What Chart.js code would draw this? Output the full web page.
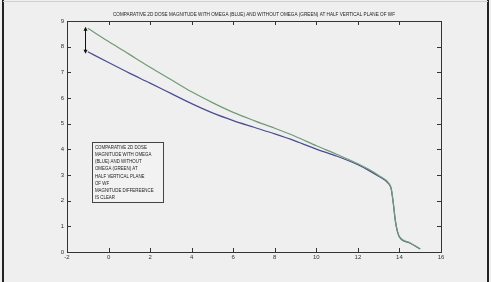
<!DOCTYPE html>
<html><head><meta charset="utf-8">
<script src="https://cdn.jsdelivr.net/npm/chart.js@4/dist/chart.umd.min.js"></script>
<style>html,body{margin:0;padding:0;background:#efefef;}#c{display:block;}</style>
</head><body>
<canvas id="c" width="491" height="282"></canvas>
<script>
const titleText = "COMPARATIVE 2D DOSE MAGNITUDE WITH OMEGA (BLUE) AND WITHOUT OMEGA (GREEN) AT HALF VERTICAL PLANE OF WF";
const noteLines = ["COMPARATIVE 2D DOSE","MAGNITUDE WITH OMEGA","(BLUE) AND WITHOUT","OMEGA (GREEN) AT","HALF VERTICAL PLANE","OF WF","MAGNITUDE DIFFEREENCE","IS CLEAR"];
const xTicks = [-2,0,2,4,6,8,10,12,14,16];
const yTicks = [0,1,2,3,4,5,6,7,8,9];
const xs    = [-1,   0,   1,   2,   3,   4,   5,   6,   7,   8,   9,   10,  11,  12,  12.5, 13,  13.5, 13.6, 13.7, 13.8, 13.9, 14,  14.5, 15];
const green = [8.72, 8.2, 7.7, 7.2, 6.72,6.24,5.82,5.44,5.12,4.82,4.5, 4.14,3.8, 3.44,3.23, 2.98,2.67, 2.5,  1.95, 1.25, 0.82, 0.6, 0.36, 0.13];
const blue  = [7.8,  7.38,6.97,6.58,6.18,5.78,5.42,5.12,4.86,4.6, 4.32,4.01,3.73,3.4, 3.19, 2.95,2.64, 2.47, 1.92, 1.22, 0.8,  0.58,0.35, 0.12];
const arrowFrom = 8.78, arrowTo = 7.72, arrowX = -1.15;

const FONT = "'Liberation Sans',Arial,sans-serif";

const deco = {
  id:'deco',
  beforeDraw(chart){
    const ctx = chart.ctx;
    ctx.save();
    ctx.fillStyle = '#efefef';
    ctx.fillRect(0,0,chart.width,chart.height);
    ctx.restore();
  },
  afterDraw(chart){
    const ctx = chart.ctx, a = chart.chartArea;
    const xs_ = chart.scales.x, ys_ = chart.scales.y;
    ctx.save();
    // frame
    ctx.strokeStyle = '#222'; ctx.lineWidth = 2;
    ctx.beginPath(); ctx.moveTo(3,0); ctx.lineTo(3,282); ctx.moveTo(488,0); ctx.lineTo(488,282); ctx.stroke();
    ctx.strokeStyle = '#cfcfcf'; ctx.lineWidth = 1;
    ctx.beginPath(); ctx.moveTo(3,1.5); ctx.lineTo(488,1.5); ctx.stroke();
    // box
    ctx.strokeStyle = '#333'; ctx.lineWidth = 1;
    ctx.strokeRect(Math.round(a.left)+0.5, Math.round(a.top)+0.5, Math.round(a.right-a.left), Math.round(a.bottom-a.top));
    // ticks inward
    ctx.beginPath();
    xTicks.forEach(v=>{const p=Math.round(xs_.getPixelForValue(v))+0.5;
      ctx.moveTo(p,a.bottom); ctx.lineTo(p,a.bottom-4); ctx.moveTo(p,a.top); ctx.lineTo(p,a.top+4);});
    yTicks.forEach(v=>{const p=Math.round(ys_.getPixelForValue(v))+0.5;
      ctx.moveTo(a.left,p); ctx.lineTo(a.left+4,p); ctx.moveTo(a.right,p); ctx.lineTo(a.right-4,p);});
    ctx.stroke();
    // title
    ctx.fillStyle = '#222';
    ctx.font = "5px " + FONT;
    ctx.textAlign = 'center'; ctx.textBaseline = 'middle';
    ctx.fillText(titleText, (a.left+a.right)/2, 14.5, 282);
    // note box
    const bx = xs_.getPixelForValue(-0.8), by = ys_.getPixelForValue(4.28);
    const bw = 71, bh = 60;
    ctx.fillStyle = '#f2f2f2';
    ctx.fillRect(bx,by,bw,bh);
    ctx.strokeStyle='#444'; ctx.strokeRect(Math.round(bx)+0.5, Math.round(by)+0.5, bw, bh);
    ctx.fillStyle = '#222'; ctx.textAlign='left'; ctx.textBaseline='middle';
    ctx.font = "5.5px " + FONT;
    ctx.translate(bx+3, by+5.5);
    ctx.scale(0.8,1);
    noteLines.forEach((t,i)=>ctx.fillText(t, 0, i*7.1));
    ctx.setTransform(1,0,0,1,0,0);
    // double arrow
    const ax = Math.round(xs_.getPixelForValue(arrowX))+0.5;
    const y1 = ys_.getPixelForValue(arrowFrom), y2 = ys_.getPixelForValue(arrowTo);
    ctx.strokeStyle='#111'; ctx.fillStyle='#111'; ctx.lineWidth=1;
    ctx.beginPath(); ctx.moveTo(ax,y1+3); ctx.lineTo(ax,y2-3); ctx.stroke();
    ctx.beginPath(); ctx.moveTo(ax,y1); ctx.lineTo(ax-2,y1+4); ctx.lineTo(ax+2,y1+4); ctx.closePath(); ctx.fill();
    ctx.beginPath(); ctx.moveTo(ax,y2); ctx.lineTo(ax-2,y2-4); ctx.lineTo(ax+2,y2-4); ctx.closePath(); ctx.fill();
    ctx.restore();
  }
};

new Chart(document.getElementById('c'), {
  type:'line',
  data:{
    datasets:[
      {label:'Without omega (green)', data: xs.map((x,i)=>({x, y: green[i]})), borderColor:'#6f9c74', borderWidth:1.2, pointRadius:0, cubicInterpolationMode:'monotone', fill:false},
      {label:'With omega (blue)', data: xs.map((x,i)=>({x, y: blue[i]})), borderColor:'#4b4b95', borderWidth:1.2, pointRadius:0, cubicInterpolationMode:'monotone', fill:false}
    ]
  },
  options:{
    responsive:false, animation:false, devicePixelRatio:1,
    layout:{padding:{left:0,right:50,top:21,bottom:0}},
    plugins:{legend:{display:false}, title:{display:false}, tooltip:{enabled:false}},
    scales:{
      x:{type:'linear', min:-2, max:16, afterBuildTicks(s){s.ticks = xTicks.map(v=>({value:v}));},
         grid:{display:false, drawTicks:false}, border:{display:false},
         ticks:{font:{size:6, family:FONT}, color:'#333', padding:2, maxRotation:0, autoSkip:false},
         afterFit(s){s.height = 30;}},
      y:{type:'linear', min:0, max:9, afterBuildTicks(s){s.ticks = yTicks.map(v=>({value:v}));},
         grid:{display:false, drawTicks:false}, border:{display:false},
         ticks:{font:{size:6, family:FONT}, color:'#333', padding:3, autoSkip:false},
         afterFit(s){s.width = 67;}}
    }
  },
  plugins:[deco]
});
</script>
</body></html>
